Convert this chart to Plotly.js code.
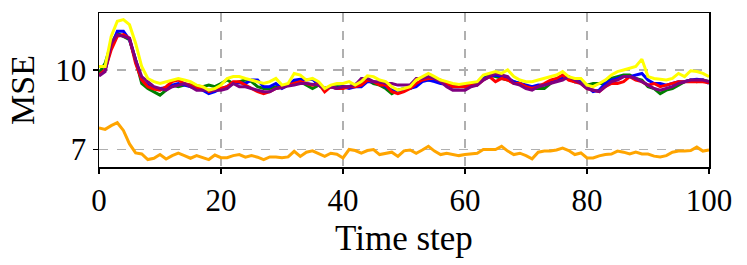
<!DOCTYPE html>
<html>
<head>
<meta charset="utf-8">
<script src="https://cdn.plot.ly/plotly-3.0.1.min.js"></script>
<style>html,body{margin:0;padding:0;background:#fff;}#chart{width:747px;height:265px;}</style>
</head>
<body>
<div id="chart"></div>
<script>
const timeSteps = Array.from({length: 101}, (_, i) => i);

const greenSeries = [9.87,10.25,11.0,11.39,11.27,11.14,10.38,9.49,9.30,9.18,9.05,9.24,9.43,9.37,9.43,9.43,9.39,9.37,9.43,9.37,9.49,9.62,9.49,9.56,9.62,9.56,9.37,9.30,9.30,9.37,9.37,9.43,9.56,9.56,9.43,9.30,9.43,9.30,9.37,9.37,9.37,9.37,9.46,9.43,9.62,9.49,9.43,9.30,9.11,9.24,9.30,9.30,9.43,9.62,9.62,9.62,9.56,9.49,9.37,9.37,9.37,9.43,9.46,9.68,9.81,9.75,9.68,9.62,9.56,9.49,9.37,9.30,9.30,9.30,9.49,9.62,9.68,9.68,9.56,9.56,9.43,9.49,9.49,9.49,9.68,9.75,9.81,9.81,9.68,9.62,9.37,9.30,9.11,9.24,9.30,9.43,9.56,9.62,9.56,9.62,9.56];

const blueSeries = [9.81,10.0,10.89,11.46,11.46,11.14,10.38,9.62,9.43,9.30,9.30,9.33,9.43,9.49,9.43,9.37,9.30,9.24,9.11,9.18,9.30,9.37,9.49,9.52,9.49,9.62,9.62,9.37,9.37,9.49,9.30,9.43,9.62,9.65,9.62,9.65,9.43,9.30,9.37,9.30,9.37,9.30,9.37,9.37,9.56,9.56,9.49,9.37,9.24,9.18,9.24,9.30,9.37,9.56,9.62,9.56,9.49,9.46,9.37,9.37,9.43,9.43,9.43,9.68,9.75,9.81,9.75,9.68,9.56,9.49,9.43,9.37,9.43,9.43,9.56,9.62,9.68,9.68,9.56,9.56,9.37,9.18,9.24,9.49,9.62,9.68,9.75,9.75,9.81,9.87,9.62,9.49,9.49,9.43,9.49,9.56,9.56,9.62,9.65,9.62,9.49];

const redSeries = [9.81,10.0,10.76,11.27,11.33,11.2,10.25,9.62,9.37,9.28,9.24,9.37,9.56,9.62,9.49,9.43,9.30,9.37,9.18,9.24,9.30,9.37,9.56,9.56,9.43,9.30,9.18,9.11,9.18,9.30,9.37,9.43,9.49,9.56,9.49,9.43,9.49,9.18,9.37,9.30,9.30,9.37,9.37,9.43,9.62,9.56,9.43,9.43,9.18,9.11,9.18,9.30,9.49,9.62,9.68,9.68,9.62,9.49,9.37,9.37,9.37,9.43,9.43,9.62,9.75,9.56,9.68,9.62,9.49,9.49,9.37,9.30,9.37,9.49,9.62,9.68,9.81,9.62,9.56,9.49,9.30,9.24,9.18,9.37,9.49,9.49,9.56,9.75,9.62,9.56,9.43,9.49,9.37,9.43,9.49,9.56,9.56,9.56,9.56,9.56,9.52];

const purpleSeries = [9.77,9.94,11.0,11.33,11.27,11.2,10.38,9.75,9.56,9.37,9.30,9.24,9.37,9.43,9.49,9.37,9.24,9.24,9.24,9.24,9.24,9.30,9.49,9.37,9.37,9.30,9.24,9.18,9.18,9.30,9.33,9.40,9.43,9.49,9.49,9.46,9.43,9.30,9.37,9.30,9.37,9.37,9.43,9.68,9.68,9.56,9.56,9.49,9.49,9.43,9.43,9.43,9.68,9.68,9.75,9.68,9.56,9.37,9.24,9.24,9.24,9.37,9.43,9.62,9.75,9.87,9.81,9.75,9.49,9.43,9.30,9.24,9.37,9.43,9.49,9.56,9.62,9.75,9.62,9.49,9.30,9.24,9.18,9.37,9.56,9.62,9.75,9.75,9.68,9.56,9.43,9.30,9.24,9.30,9.37,9.49,9.56,9.62,9.62,9.62,9.56];

const yellowSeries = [10.13,10.13,11.27,11.84,11.9,11.71,11.01,10.13,9.68,9.56,9.49,9.56,9.62,9.68,9.62,9.56,9.43,9.37,9.24,9.30,9.43,9.68,9.75,9.75,9.68,9.62,9.56,9.49,9.56,9.68,9.43,9.49,9.87,9.81,9.62,9.68,9.56,9.30,9.43,9.49,9.49,9.56,9.43,9.56,9.78,9.75,9.62,9.56,9.37,9.24,9.30,9.37,9.62,9.75,9.87,9.75,9.62,9.56,9.49,9.45,9.49,9.52,9.56,9.81,9.87,9.94,9.87,10.0,9.75,9.62,9.56,9.56,9.62,9.68,9.75,9.81,9.94,9.75,9.68,9.68,9.43,9.37,9.49,9.62,9.81,9.94,10.0,10.06,10.13,10.41,9.75,9.68,9.65,9.62,9.68,9.87,9.75,9.97,9.94,9.87,9.75];

const orangeSeries = [7.81,7.76,7.9,8.01,7.72,7.21,6.87,6.83,6.62,6.67,6.81,6.64,6.77,6.86,6.77,6.67,6.77,6.68,6.62,6.79,6.69,6.69,6.77,6.81,6.71,6.77,6.71,6.62,6.72,6.72,6.69,6.72,6.93,6.74,6.9,6.95,6.86,6.74,6.86,6.82,6.68,7.0,6.96,6.86,6.96,7.0,6.81,6.86,6.9,6.74,6.95,6.98,6.86,6.98,7.12,6.94,6.81,6.86,6.81,6.77,6.81,6.83,6.86,7.0,7.0,7.0,7.12,6.94,6.81,6.86,6.77,6.65,6.9,6.94,6.94,6.98,7.05,6.96,6.81,6.87,6.68,6.68,6.76,6.81,6.83,6.94,6.9,6.83,6.9,6.83,6.83,6.75,6.72,6.77,6.9,6.94,6.94,6.96,7.09,6.94,6.98];

const xTickVals = [0, 20, 40, 60, 80, 100];
const xTickText = ['0', '20', '40', '60', '80', '100'];
const yTickVals = [7, 10];
const yTickText = ['7', '10'];

const seriesList = [
  {y: greenSeries, color: 'green'},
  {y: blueSeries, color: 'blue'},
  {y: redSeries, color: 'red'},
  {y: purpleSeries, color: 'purple'},
  {y: yellowSeries, color: 'yellow'},
  {y: orangeSeries, color: 'orange'}
];

const traces = seriesList.map(s => ({
  x: timeSteps, y: s.y, type: 'scatter', mode: 'lines',
  line: {color: s.color, width: 3}, showlegend: false, hoverinfo: 'skip'
}));

const fontFam = 'Liberation Serif, DejaVu Serif, serif';
const layout = {
  width: 747, height: 265,
  margin: {l: 99, r: 38, t: 13, b: 98},
  paper_bgcolor: '#fff', plot_bgcolor: '#fff',
  font: {family: fontFam, color: '#000', size: 31},
  xaxis: {
    range: [0, 100], tickvals: xTickVals, ticktext: xTickText,
    ticks: 'outside', ticklen: 5, tickwidth: 1.3, tickcolor: '#000',
    showline: true, linecolor: '#000', linewidth: 1.5, mirror: true,
    showgrid: true, gridcolor: '#b0b0b0', gridwidth: 1.3, griddash: 'dash',
    zeroline: false, tickfont: {size: 31, family: fontFam},
    title: {text: 'Time step', font: {size: 35, family: fontFam}, standoff: 9},
    automargin: false
  },
  yaxis: {
    range: [6.34, 12.15], tickvals: yTickVals, ticktext: yTickText,
    ticks: 'outside', ticklen: 5, tickwidth: 1.3, tickcolor: '#000',
    showline: true, linecolor: '#000', linewidth: 1.5, mirror: true,
    showgrid: true, gridcolor: '#b0b0b0', gridwidth: 1.3, griddash: 'dash',
    zeroline: false, tickfont: {size: 31, family: fontFam},
    title: {text: 'MSE', font: {size: 34, family: fontFam}, standoff: 10},
    automargin: false
  }
};

Plotly.newPlot('chart', traces, layout, {staticPlot: true, displayModeBar: false});
</script>
</body>
</html>
